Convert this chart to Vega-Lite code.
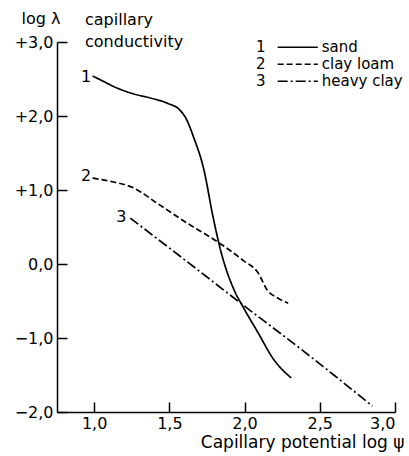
{
  "$schema": "https://vega.github.io/schema/vega-lite/v6.json",
  "width": 338,
  "height": 370,
  "autosize": {"type": "none"},
  "padding": {"left": 57, "top": 42, "right": 14, "bottom": 44},
  "background": "white",
  "config": {
    "view": {"stroke": null},
    "font": "DejaVu Sans",
    "axis": {"grid": false, "domainColor": "black", "tickColor": "black", "labelColor": "black", "titleColor": "black", "labelFont": "DejaVu Sans", "titleFont": "DejaVu Sans", "labelFontSize": 16, "titleFontSize": 16, "titleFontWeight": "normal", "domainWidth": 1.5, "tickWidth": 1.5}
  },
  "title": {"text": ["capillary", "conductivity"], "anchor": "start", "dx": 28, "fontSize": 16, "fontWeight": "normal", "font": "DejaVu Sans", "color": "black", "lineHeight": 22, "offset": -40, "frame": "group"},
  "datasets": {
    "curves": [
      {"soil": "sand", "x": 0.99, "y": 2.54},
      {"soil": "sand", "x": 1.04, "y": 2.49},
      {"soil": "sand", "x": 1.15, "y": 2.38},
      {"soil": "sand", "x": 1.26, "y": 2.30},
      {"soil": "sand", "x": 1.38, "y": 2.24},
      {"soil": "sand", "x": 1.49, "y": 2.17},
      {"soil": "sand", "x": 1.57, "y": 2.08},
      {"soil": "sand", "x": 1.61, "y": 1.97},
      {"soil": "sand", "x": 1.66, "y": 1.72},
      {"soil": "sand", "x": 1.73, "y": 1.27},
      {"soil": "sand", "x": 1.79, "y": 0.64},
      {"soil": "sand", "x": 1.84, "y": 0.19},
      {"soil": "sand", "x": 1.93, "y": -0.35},
      {"soil": "sand", "x": 1.99, "y": -0.58},
      {"soil": "sand", "x": 2.09, "y": -0.93},
      {"soil": "sand", "x": 2.19, "y": -1.28},
      {"soil": "sand", "x": 2.31, "y": -1.54},
      {"soil": "clay loam", "x": 0.99, "y": 1.16},
      {"soil": "clay loam", "x": 1.10, "y": 1.12},
      {"soil": "clay loam", "x": 1.26, "y": 1.03},
      {"soil": "clay loam", "x": 1.42, "y": 0.82},
      {"soil": "clay loam", "x": 1.62, "y": 0.55},
      {"soil": "clay loam", "x": 1.82, "y": 0.30},
      {"soil": "clay loam", "x": 1.99, "y": 0.05},
      {"soil": "clay loam", "x": 2.09, "y": -0.12},
      {"soil": "clay loam", "x": 2.15, "y": -0.35},
      {"soil": "clay loam", "x": 2.22, "y": -0.46},
      {"soil": "clay loam", "x": 2.29, "y": -0.53},
      {"soil": "heavy clay", "x": 1.24, "y": 0.62},
      {"soil": "heavy clay", "x": 1.60, "y": 0.06},
      {"soil": "heavy clay", "x": 2.00, "y": -0.57},
      {"soil": "heavy clay", "x": 2.40, "y": -1.19},
      {"soil": "heavy clay", "x": 2.85, "y": -1.92}
    ],
    "labels": [
      {"t": "1", "x": 0.947, "y": 2.53},
      {"t": "2", "x": 0.947, "y": 1.19},
      {"t": "3", "x": 1.18, "y": 0.64}
    ],
    "key": [
      {"n": "1", "soil": "sand", "label": "sand", "nx": 2.107, "x1": 2.22, "x2": 2.487, "lx": 2.513, "y": 2.93},
      {"n": "2", "soil": "clay loam", "label": "clay  loam", "nx": 2.107, "x1": 2.22, "x2": 2.487, "lx": 2.513, "y": 2.70},
      {"n": "3", "soil": "heavy clay", "label": "heavy clay", "nx": 2.107, "x1": 2.22, "x2": 2.487, "lx": 2.513, "y": 2.47}
    ]
  },
  "encoding": {
    "x": {"type": "quantitative", "scale": {"domain": [0.753, 3.0], "nice": false, "zero": false}},
    "y": {"type": "quantitative", "scale": {"domain": [-2, 3], "nice": false, "zero": false}}
  },
  "layer": [
    {
      "data": {"name": "curves"},
      "mark": {"type": "line", "interpolate": "monotone", "color": "black", "strokeWidth": 1.7},
      "encoding": {
        "x": {"field": "x", "type": "quantitative",
          "axis": {"values": [1.0, 1.5, 2.0, 2.5, 3.0], "tickSize": -10, "labelPadding": 13, "labelExpr": "replace(format(datum.value, '.1f'), '.', ',')",
            "title": "Capillary  potential  log  ψ", "titleFontSize": 17, "titleAlign": "right", "titleX": 347, "titleY": 30, "titleBaseline": "middle", "titleAnchor": null}},
        "y": {"field": "y", "type": "quantitative",
          "axis": {"values": [-2, -1, 0, 1, 2, 3], "tickSize": -10, "labelPadding": 14,
            "labelExpr": "(datum.value > 0 ? '+' : '') + replace(format(datum.value, '.1f'), '.', ',')",
            "title": "log  λ", "titleAngle": 0, "titleAlign": "left", "titleX": -36, "titleY": -24, "titleBaseline": "middle", "titleAnchor": null}},
        "strokeDash": {"field": "soil", "type": "nominal",
          "scale": {"domain": ["sand", "clay loam", "heavy clay"], "range": [[1, 0], [6, 3], [10, 3, 2, 3]]},
          "legend": null}
      }
    },
    {
      "data": {"name": "labels"},
      "mark": {"type": "text", "fontSize": 16, "font": "DejaVu Sans", "color": "black"},
      "encoding": {
        "x": {"field": "x", "type": "quantitative"},
        "y": {"field": "y", "type": "quantitative"},
        "text": {"field": "t"}
      }
    },
    {
      "data": {"name": "key"},
      "mark": {"type": "rule", "color": "black", "strokeWidth": 1.5},
      "encoding": {
        "x": {"field": "x1", "type": "quantitative"},
        "x2": {"field": "x2"},
        "y": {"field": "y", "type": "quantitative"},
        "strokeDash": {"field": "soil", "type": "nominal", "legend": null}
      }
    },
    {
      "data": {"name": "key"},
      "mark": {"type": "text", "fontSize": 15, "font": "DejaVu Sans", "color": "black", "align": "center"},
      "encoding": {
        "x": {"field": "nx", "type": "quantitative"},
        "y": {"field": "y", "type": "quantitative"},
        "text": {"field": "n"}
      }
    },
    {
      "data": {"name": "key"},
      "mark": {"type": "text", "fontSize": 15, "font": "DejaVu Sans", "color": "black", "align": "left"},
      "encoding": {
        "x": {"field": "lx", "type": "quantitative"},
        "y": {"field": "y", "type": "quantitative"},
        "text": {"field": "label"}
      }
    }
  ]
}
